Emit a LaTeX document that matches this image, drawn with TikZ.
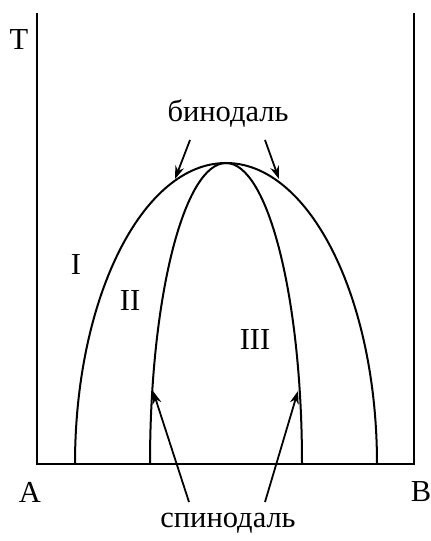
\documentclass[tikz,border=0pt]{standalone}
\usepackage{fontspec}
\setmainfont{Liberation Serif}
\usetikzlibrary{arrows.meta}
\begin{document}
\begin{tikzpicture}[x=1pt,y=-1pt,
  line width=2pt,
  lbl/.style={inner sep=0pt,font=\fontsize{30.5}{33}\selectfont},
  ptr/.style={line width=1.8pt,-{Stealth[length=13pt,width=9pt]}}]
\useasboundingbox (0,0) rectangle (431,541);
% axes
\coordinate (TL) at (37,13);
\coordinate (BL) at (37,464);
\coordinate (BR) at (414,464);
\coordinate (TR) at (414,13);
\draw (TL) -- (BL) -- (BR) -- (TR);
% binodal
\coordinate (b0) at (75,464);
\draw (b0) arc[start angle=180,end angle=0,x radius=151,y radius=-301];
% spinodal
\coordinate (s0) at (150,464);
\draw (s0) arc[start angle=180,end angle=0,x radius=76,y radius=-301];
% labels
\node[lbl] (T) at (19,40) {T};
\node[lbl] (A) at (30,492) {A};
\node[lbl] (B) at (421,492) {B};
\node[lbl] (bin) at (228,114) {бинодаль};
\node[lbl] (spin) at (228,523) {спинодаль};
\node[lbl] (r1) at (76,265) {I};
\node[lbl] (r2) at (130,301) {II};
\node[lbl] (r3) at (255,340) {III};
% arrows
\coordinate (bt1) at (175,179);
\coordinate (bt2) at (279,179);
\coordinate (bs1) at (190,140);
\coordinate (bs2) at (265,140);
\draw[ptr] (bs1) -- (bt1);
\draw[ptr] (bs2) -- (bt2);
\coordinate (st1) at (153,391);
\coordinate (st2) at (298,391);
\coordinate (ss1) at (189,502);
\coordinate (ss2) at (265,502);
\draw[ptr] (ss1) -- (st1);
\draw[ptr] (ss2) -- (st2);
\end{tikzpicture}
\end{document}
